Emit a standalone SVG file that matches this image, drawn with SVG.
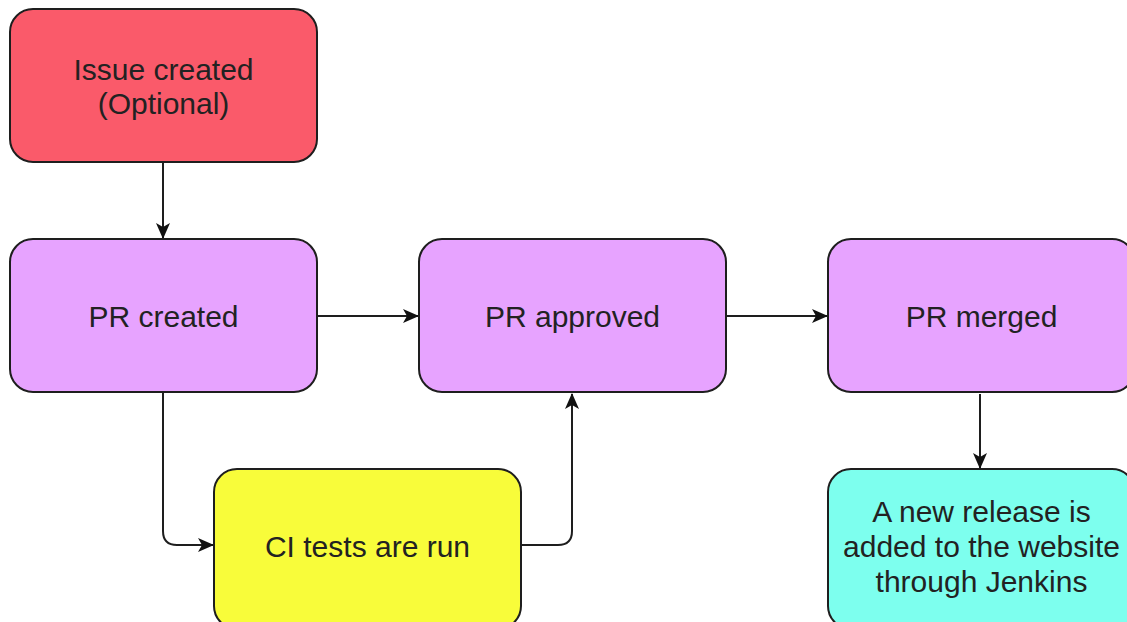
<svg xmlns="http://www.w3.org/2000/svg" width="1127" height="622" viewBox="0 0 1127 622">
<style>
.box{stroke:#1e1e1e;stroke-width:2}
.t{font-family:"Liberation Sans",Arial,sans-serif;font-size:30px;fill:#222;text-anchor:middle}
.c{fill:none;stroke:#1e1e1e;stroke-width:2}
</style>
<defs>
<marker id="ah" markerWidth="18" markerHeight="16" refX="15" refY="7" orient="auto" markerUnits="userSpaceOnUse">
<path d="M0,0 L16,7 L0,14 L4,7 Z" fill="#111"/>
</marker>
</defs>
<rect width="1127" height="622" fill="#fff"/>
<g id="connectors">
<path class="c" d="M163,163 V238" marker-end="url(#ah)"/>
<path class="c" d="M318,316 H418" marker-end="url(#ah)"/>
<path class="c" d="M727,316 H827" marker-end="url(#ah)"/>
<path class="c" d="M980,394 V468" marker-end="url(#ah)"/>
<path class="c" d="M163,393 V531 Q163,545 177,545 H213" marker-end="url(#ah)"/>
<path class="c" d="M522,545 H558 Q572,545 572,531 V394" marker-end="url(#ah)"/>
</g>
<g id="issue">
<rect class="box" x="10" y="9" width="307" height="153" rx="23" fill="#fa5a6a"/>
<text class="t" x="163.5" y="80">Issue created</text>
<text class="t" x="163.5" y="114">(Optional)</text>
</g>
<g id="pr-created">
<rect class="box" x="10" y="239" width="307" height="153" rx="23" fill="#e7a3ff"/>
<text class="t" x="163.5" y="327">PR created</text>
</g>
<g id="pr-approved">
<rect class="box" x="419" y="239" width="307" height="153" rx="23" fill="#e7a3ff"/>
<text class="t" x="572.5" y="327">PR approved</text>
</g>
<g id="pr-merged">
<rect class="box" x="828" y="239" width="307" height="153" rx="23" fill="#e7a3ff"/>
<text class="t" x="981.5" y="327">PR merged</text>
</g>
<g id="ci">
<rect class="box" x="214" y="469" width="307" height="160" rx="23" fill="#f8fc3a"/>
<text class="t" x="367.5" y="557">CI tests are run</text>
</g>
<g id="release">
<rect class="box" x="828" y="469" width="307" height="160" rx="23" fill="#7dffee"/>
<text class="t" x="981.5" y="522">A new release is</text>
<text class="t" x="981.5" y="557">added to the website</text>
<text class="t" x="981.5" y="592">through Jenkins</text>
</g>
</svg>
